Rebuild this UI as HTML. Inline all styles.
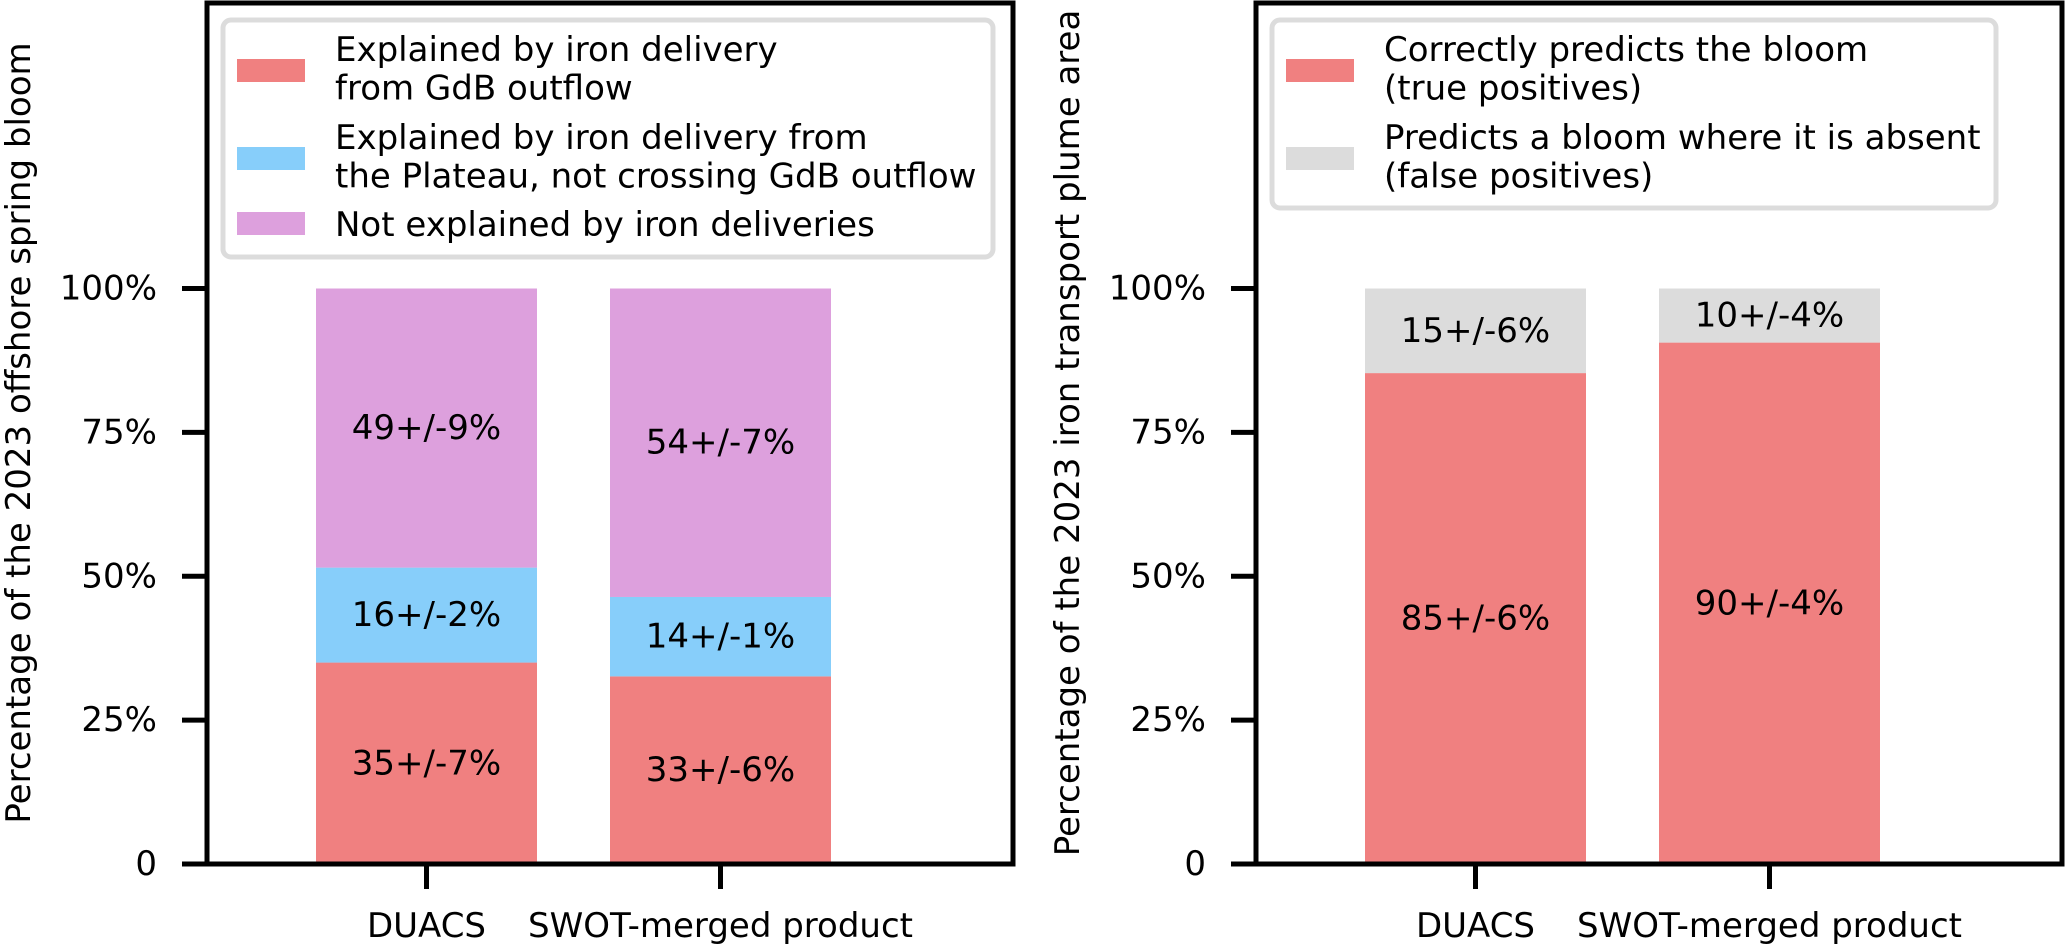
<!DOCTYPE html>
<html><head><meta charset="utf-8"><style>
html,body{margin:0;padding:0;background:#fff;}
svg{display:block;font-family:"DejaVu Sans","Liberation Sans",sans-serif;}
</style></head><body>
<svg id="chart" width="2067" height="944" viewBox="0 0 2067 944" xmlns="http://www.w3.org/2000/svg">
<g id="left"></g>
<g id="right"></g>
</svg>
<script>
const categories = ["DUACS", "SWOT-merged product"];
const leftRed = [35, 32.6];
const leftBlue = [16.5, 13.8];
const leftPurple = [48.5, 53.6];
const leftRedLabels = ["35+/-7%", "33+/-6%"];
const leftBlueLabels = ["16+/-2%", "14+/-1%"];
const leftPurpleLabels = ["49+/-9%", "54+/-7%"];
const rightTrue = [85.3, 90.6];
const rightFalse = [14.7, 9.4];
const rightTrueLabels = ["85+/-6%", "90+/-4%"];
const rightFalseLabels = ["15+/-6%", "10+/-4%"];
const yTicks = [0, 25, 50, 75, 100];
const yTickLabels = ["0", "25%", "50%", "75%", "100%"];

const NS = "http://www.w3.org/2000/svg";
const FS = 34;
function mk(parent, tag, attrs, text){
  const e = document.createElementNS(NS, tag);
  for (const k in attrs) e.setAttribute(k, attrs[k]);
  if (text !== undefined) e.textContent = text;
  parent.appendChild(e);
  return e;
}
const Y0 = 864, PXPER = 5.755;
function yS(v){ return Y0 - v * PXPER; }
function makeX(frameLeft){ return i => frameLeft + 219.5 + i * 294; }
const BW = 221;

function drawPanel(g, frameLeft, stacks, colors, labels, names, ylabel, legend){
  const xS = makeX(frameLeft);
  categories.forEach((c, i) => {
    let base = 0;
    stacks.forEach((arr, s) => {
      const v = arr[i];
      const r = mk(g, "rect", {x: xS(i) - BW/2, y: yS(base + v), width: BW, height: v * PXPER, fill: colors[s]});
      
      
      const t = mk(g, "text", {x: xS(i), y: yS(base + v/2), "text-anchor": "middle", "dominant-baseline": "central", "font-size": FS, fill: "#000"}, labels[s][i]);
      
      
      base += v;
    });
  });
  const f = mk(g, "rect", {x: frameLeft, y: 3, width: 806, height: Y0 - 3, fill: "none", stroke: "#000", "stroke-width": 5});
  
  
  yTicks.forEach((v, k) => {
    const tk = mk(g, "line", {x1: frameLeft - 25, x2: frameLeft, y1: yS(v), y2: yS(v), stroke: "#000", "stroke-width": 5});
    
    
    const tl = mk(g, "text", {x: frameLeft - 50, y: yS(v), "text-anchor": "end", "dominant-baseline": "central", "font-size": FS}, yTickLabels[k]);
    
    
  });
  categories.forEach((c, i) => {
    const tk = mk(g, "line", {x1: xS(i), x2: xS(i), y1: Y0, y2: Y0 + 25, stroke: "#000", "stroke-width": 5});
    
    
    const tl = mk(g, "text", {x: xS(i), y: 937, "text-anchor": "middle", "font-size": FS}, c);
    
    
  });
  const yl = mk(g, "text", {x: 0, y: 0, transform: "translate(" + (frameLeft - 188) + ",433) rotate(-90)", "text-anchor": "middle", "dominant-baseline": "central", "font-size": FS}, ylabel);
  
  
  const lg = mk(g, "g", {});
  
  
  const lx = frameLeft + 16;
  mk(lg, "rect", {x: lx, y: 20, width: legend.w, height: legend.h, rx: 8, fill: "#fff", stroke: "#dcdcdc", "stroke-width": 5});
  legend.entries.forEach(en => {
    const p = mk(lg, "rect", {x: lx + 14, y: en.py, width: 68, height: 23, fill: en.color});
    
    
    en.lines.forEach((ln, j) => {
      const t = mk(lg, "text", {x: lx + 112, y: en.base + j * 38.5, "font-size": FS}, ln);
      
      
    });
  });
}

drawPanel(document.getElementById("left"), 207,
  [leftRed, leftBlue, leftPurple],
  ["#F08080", "#87CEFA", "#DDA0DD"],
  [leftRedLabels, leftBlueLabels, leftPurpleLabels],
  ["gdb", "plateau", "unexplained"],
  "Percentage of the 2023 offshore spring bloom",
  {w: 770, h: 237, entries: [
    {color: "#F08080", py: 59, base: 61, lines: ["Explained by iron delivery", "from GdB outflow"]},
    {color: "#87CEFA", py: 147, base: 149, lines: ["Explained by iron delivery from", "the Plateau, not crossing GdB outflow"]},
    {color: "#DDA0DD", py: 212, base: 236, lines: ["Not explained by iron deliveries"]}
  ]});

drawPanel(document.getElementById("right"), 1256,
  [rightTrue, rightFalse],
  ["#F08080", "#DCDCDC"],
  [rightTrueLabels, rightFalseLabels],
  ["true-positive", "false-positive"],
  "Percentage of the 2023 iron transport plume area",
  {w: 724, h: 188, entries: [
    {color: "#F08080", py: 59, base: 61, lines: ["Correctly predicts the bloom", "(true positives)"]},
    {color: "#DCDCDC", py: 147, base: 149, lines: ["Predicts a bloom where it is absent", "(false positives)"]}
  ]});
</script>
</body></html>
